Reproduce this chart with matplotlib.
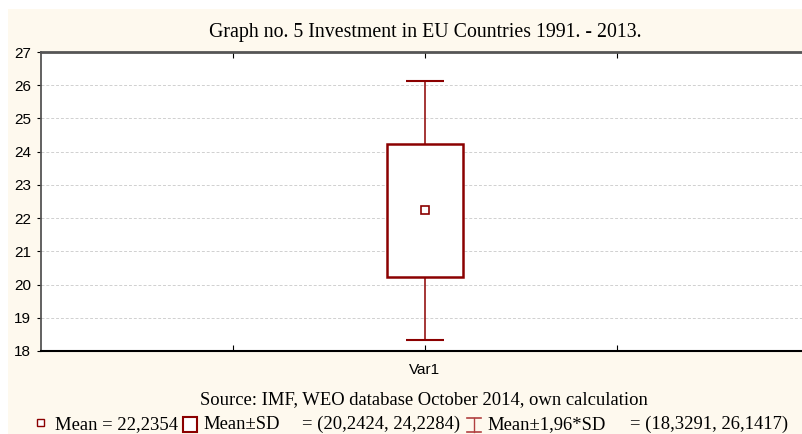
import matplotlib.pyplot as plt
from matplotlib.patches import Rectangle
from matplotlib.lines import Line2D

# values from the chart
categories = ["Var1"]
mean = [22.2354]
sd_low = [20.2424]
sd_high = [24.2284]
ci_low = [18.3291]
ci_high = [26.1417]
yticks = [18, 19, 20, 21, 22, 23, 24, 25, 26, 27]

title = "Graph no. 5 Investment in EU Countries 1991. - 2013."
source = "Source: IMF, WEO database October 2014, own calculation"

red = "#8b0000"
cream = "#fef9ee"
serif = "Liberation Serif"
sans = "Liberation Sans"
W, H = 803, 434

fig = plt.figure(figsize=(W / 100, H / 100), dpi=100)
fig.patch.set_facecolor("white")
fig.add_artist(Rectangle((8 / W, 0), 1, 1 - 9 / H, transform=fig.transFigure,
                         facecolor=cream, edgecolor="none", zorder=-10))

# axes runs a little past the right edge of the figure, like the original
ax = fig.add_axes([41 / W, 1 - 351 / H, 768 / W, (351 - 52) / H])
ax.set_facecolor("white")
ax.set_xlim(-2.0, 2.0)
ax.set_ylim(18, 27)

for i, cat in enumerate(categories):
    # box for mean +- SD
    ax.add_patch(Rectangle((i - 0.2, sd_low[i]), 0.4, sd_high[i] - sd_low[i],
                           facecolor="white", edgecolor=red, lw=1.8, zorder=3))
    # whiskers for mean +- 1.96*SD
    ax.vlines(i, sd_high[i], ci_high[i], color=red, lw=1.1, zorder=3)
    ax.vlines(i, ci_low[i], sd_low[i], color=red, lw=1.1, zorder=3)
    ax.hlines([ci_low[i], ci_high[i]], i - 0.1, i + 0.1, color=red, lw=1.5, zorder=3)
    ax.plot(i, mean[i], marker="s", ms=6, mfc="white", mec=red, mew=1.2, zorder=4)

ax.set_yticks(yticks)
ax.set_yticklabels([str(t) for t in yticks], fontfamily=sans, fontsize=11)
ax.set_xticks([-1, 0, 1])
ax.set_xticklabels(["", categories[0], ""], fontfamily=sans, fontsize=11)
ax.tick_params(axis="x", direction="in", length=4, top=True, pad=9)
ax.tick_params(axis="y", direction="out", length=3, pad=4)
ax.yaxis.grid(True, linestyle=(0, (3, 2)), color="#d0d0d0", lw=0.7)
ax.set_axisbelow(True)

ax.spines["left"].set_color("#555555")
ax.spines["left"].set_linewidth(1.3)
ax.spines["top"].set_color("#555555")
ax.spines["top"].set_linewidth(2)
ax.spines["bottom"].set_color("black")
ax.spines["bottom"].set_linewidth(1.5)
ax.spines["right"].set_visible(False)

fs = 13.4
fig.text(425 / W, 1 - 37 / H, title, ha="center", va="baseline",
         fontfamily=serif, fontsize=14.3)
fig.text(424 / W, 1 - 404 / H, source, ha="center", va="baseline",
         fontfamily=serif, fontsize=fs)

# legend line at the bottom
ly = 1 - 429 / H
fig.add_artist(Rectangle((37 / W, 1 - 426 / H), 7 / W, 7 / H,
                         transform=fig.transFigure, facecolor="white",
                         edgecolor=red, lw=1))
fig.text(55 / W, ly, "Mean = 22,2354", ha="left", va="baseline",
         fontfamily=serif, fontsize=fs)
fig.add_artist(Rectangle((183 / W, 1 - 432 / H), 14 / W, 15 / H,
                         transform=fig.transFigure, facecolor="white",
                         edgecolor=red, lw=1.5))
fig.text(203 / W, ly, "Mean\u00b1SD", ha="left", va="baseline",
         fontfamily=serif, fontsize=fs)
fig.text(302 / W, ly, "= (20,2424, 24,2284)", ha="left", va="baseline",
         fontfamily=serif, fontsize=fs)
fig.add_artist(Line2D([474 / W, 474 / W], [1 - 432 / H, 1 - 418 / H],
                      color="#b04040", lw=1, transform=fig.transFigure))
fig.add_artist(Line2D([467 / W, 481 / W], [1 - 418 / H, 1 - 418 / H],
                      color="#b04040", lw=1.2, transform=fig.transFigure))
fig.add_artist(Line2D([467 / W, 481 / W], [1 - 432 / H, 1 - 432 / H],
                      color="#b04040", lw=1.2, transform=fig.transFigure))
fig.text(487 / W, ly, "Mean\u00b11,96*SD", ha="left", va="baseline",
         fontfamily=serif, fontsize=fs)
fig.text(630 / W, ly, "= (18,3291, 26,1417)", ha="left", va="baseline",
         fontfamily=serif, fontsize=fs)

fig.savefig("out.png", dpi=100)
